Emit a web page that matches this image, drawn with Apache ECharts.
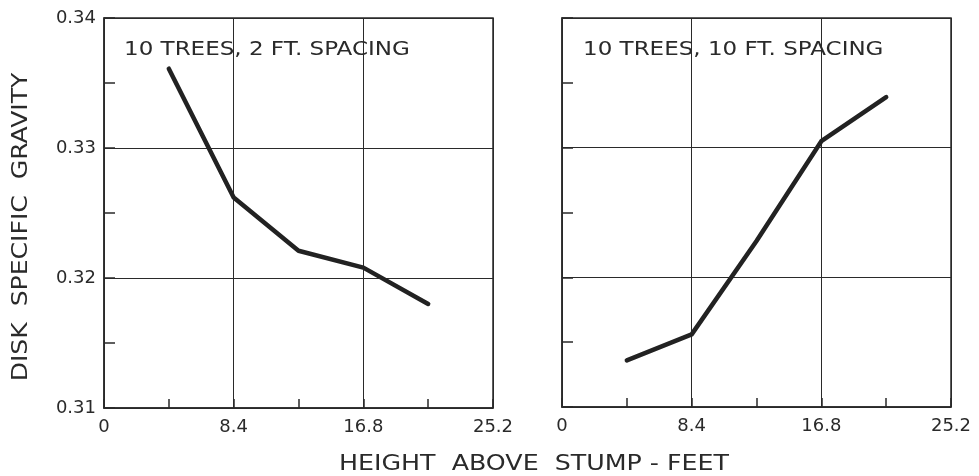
<!DOCTYPE html>
<html>
<head>
<meta charset="utf-8">
<script src="https://cdn.jsdelivr.net/npm/echarts@6/dist/echarts.min.js"></script>
<style>html,body{margin:0;padding:0;background:#fff}#c{width:979px;height:476px}</style>
</head>
<body>
<div id="c"></div>
<script>
const heights = [4.2, 8.4, 12.6, 16.8, 21.0];
const gravity2ft = [0.3361, 0.3262, 0.3221, 0.3208, 0.3180];
const gravity10ft = [0.3136, 0.3156, 0.3228, 0.3305, 0.3339];
const panelTitles = ["10 TREES, 2 FT. SPACING", "10 TREES, 10 FT. SPACING"];
const xTitle = "HEIGHT  ABOVE  STUMP - FEET";
const yTitle = "DISK  SPECIFIC  GRAVITY";

const ink = '#2a2a2a';
const font = 'DejaVu Sans';
const chart = echarts.init(document.getElementById('c'), null, {renderer: 'canvas'});

function xAx(i) {
  return {
    type: 'value', gridIndex: i, min: 0, max: 25.2, interval: 8.4,
    axisLine: {show: true, lineStyle: {color: ink, width: 1.5}},
    axisTick: {show: true, inside: true, length: 9, lineStyle: {color: ink, width: 1.5}},
    minorTick: {show: true, splitNumber: 2, length: 9, lineStyle: {color: ink, width: 1.5}},
    splitLine: {show: true, lineStyle: {color: ink, width: 1}},
    axisLabel: {color: ink, fontFamily: font, fontSize: 18, margin: 10,
      formatter: v => (Math.round(v * 10) / 10).toString()}
  };
}
function yAx(i) {
  return {
    type: 'value', gridIndex: i, min: 0.31, max: 0.34, interval: 0.01,
    axisLine: {show: true, lineStyle: {color: ink, width: 1.5}},
    axisTick: {show: true, inside: true, length: 11, lineStyle: {color: ink, width: 1.5}},
    minorTick: {show: true, splitNumber: 2, length: 11, lineStyle: {color: ink, width: 1.5}},
    splitLine: {show: true, lineStyle: {color: ink, width: 1}},
    axisLabel: {show: i === 0, color: ink, fontFamily: font, fontSize: 18, margin: 8,
      formatter: v => v.toFixed(2)}
  };
}
const gridBase = {show: true, borderColor: ink, borderWidth: 1.5, backgroundColor: 'transparent'};

chart.setOption({
  animation: false,
  grid: [
    Object.assign({left: 104, top: 18, width: 389, height: 390}, gridBase),
    Object.assign({left: 562, top: 18, width: 389, height: 389}, gridBase)
  ],
  xAxis: [xAx(0), xAx(1)],
  yAxis: [yAx(0), yAx(1)],
  series: [
    {type: 'line', xAxisIndex: 0, yAxisIndex: 0, showSymbol: false, symbol: 'none',
     lineStyle: {color: '#222', width: 4.5, cap: 'round', join: 'round'},
     data: heights.map((h, k) => [h, gravity2ft[k]])},
    {type: 'line', xAxisIndex: 1, yAxisIndex: 1, showSymbol: false, symbol: 'none',
     lineStyle: {color: '#222', width: 4.5, cap: 'round', join: 'round'},
     data: heights.map((h, k) => [h, gravity10ft[k]])}
  ],
  graphic: [
    {type: 'text', x: 124, y: 50, scaleX: 1.15, style: {text: panelTitles[0], fill: ink, font: '20px "' + font + '"', textVerticalAlign: 'middle'}},
    {type: 'text', x: 583, y: 50, scaleX: 1.15, style: {text: panelTitles[1], fill: ink, font: '20px "' + font + '"', textVerticalAlign: 'middle'}},
    {type: 'text', x: 534, y: 464, scaleX: 1.15, style: {text: xTitle, fill: ink, font: '22px "' + font + '"', textAlign: 'center', textVerticalAlign: 'middle'}},
    {type: 'text', x: 21, y: 227, rotation: Math.PI / 2, scaleX: 1.14, style: {text: yTitle, fill: ink, font: '22px "' + font + '"', textAlign: 'center', textVerticalAlign: 'middle'}}
  ]
});
</script>
</body>
</html>
